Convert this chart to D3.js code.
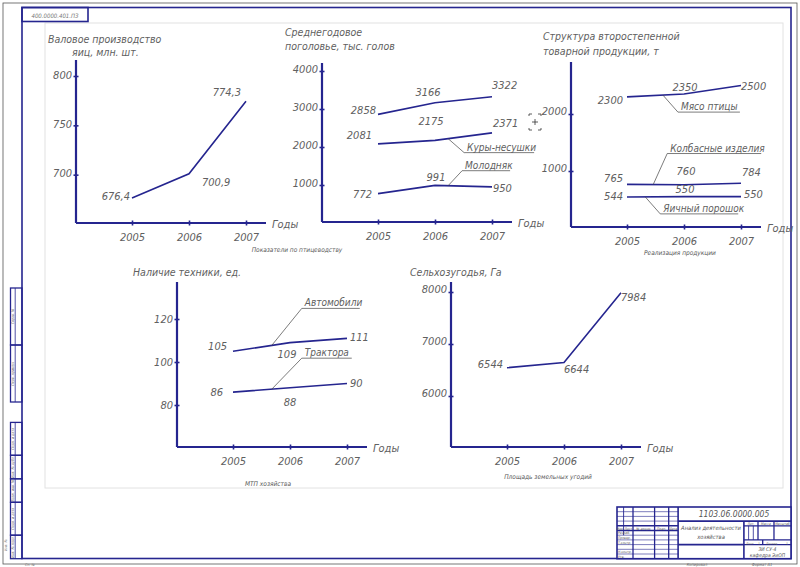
<!DOCTYPE html>
<html>
<head>
<meta charset="utf-8">
<script src="https://cdn.jsdelivr.net/npm/d3@7/dist/d3.min.js"></script>
<style>
  html, body { margin: 0; padding: 0; background: #ffffff; }
  svg { display: block; }
</style>
</head>
<body>
<script>
// ---- Data ----
var years = ["2005", "2006", "2007"];

var eggsValues = [676.4, 700.9, 774.3];
var eggsTicks = [700, 750, 800];

var poultryTotal = [2858, 3166, 3322];
var poultryLayers = [2081, 2175, 2371];
var poultryYoung = [772, 991, 950];
var poultryTicks = [1000, 2000, 3000, 4000];

var meatValues = [2300, 2350, 2500];
var sausageValues = [765, 760, 784];
var eggPowderValues = [544, 550, 550];
var productTicks = [1000, 2000];

var carsValues = [105, 109, 111];
var tractorsValues = [86, 88, 90];
var machineryTicks = [80, 100, 120];

var landValues = [6544, 6644, 7984];
var landTicks = [6000, 7000, 8000];

var FONT = "'Liberation Sans Narrow','DejaVu Sans Condensed','Liberation Sans',sans-serif";
var BLUE = "#25258f";
var INK = "#606060";
var NUM = 11;   // numbers
var TXT = 10;   // words

var width = 800,
	height = 567;

var svg = d3.select("body").append("svg")
	.attr("width", width)
	.attr("height", height);

svg.append("rect")
	.attr("width", width)
	.attr("height", height)
	.attr("fill", "#ffffff");

function fmt(v) {
	return String(v).replace(".", ",");
}

function label(g, x, y, str, size, anchor, fill) {
	return g.append("text")
		.attr("x", x)
		.attr("y", y)
		.attr("text-anchor", anchor || "start")
		.style("font-family", FONT)
		.style("font-style", "italic")
		.style("font-size", size + "px")
		.attr("fill", fill || INK)
		.text(str);
}

function line(g, x1, y1, x2, y2, stroke, w) {
	return g.append("line")
		.attr("x1", x1).attr("y1", y1)
		.attr("x2", x2).attr("y2", y2)
		.attr("stroke", stroke || BLUE)
		.attr("stroke-width", w || 1);
}

// ---- Sheet frame ----
var frame = svg.append("g").attr("id", "frame");

frame.append("rect")   // trimmed sheet edge
	.attr("x", 3).attr("y", 3).attr("width", 794).attr("height", 561)
	.attr("fill", "none").attr("stroke", "#555").attr("stroke-width", 0.8);

frame.append("rect")   // light working area
	.attr("x", 45).attr("y", 23).attr("width", 738).attr("height", 465)
	.attr("fill", "none").attr("stroke", "#e2e2e2").attr("stroke-width", 1);

frame.append("rect")   // main frame
	.attr("x", 22).attr("y", 7.5).attr("width", 769).attr("height", 551)
	.attr("fill", "none").attr("stroke", BLUE).attr("stroke-width", 1.6);

frame.append("rect")   // top-left designation box
	.attr("x", 22).attr("y", 7.5).attr("width", 66).attr("height", 14)
	.attr("fill", "none").attr("stroke", BLUE).attr("stroke-width", 1.6);
label(frame, 55, 17.5, "400.0000.401.ПЗ", 6, "middle", "#777");

// left strip
var stripGroups = [
	{ y0: 288, y1: 345, text: "Справ. №" },
	{ y0: 345, y1: 402, text: "Перв. примен." },
	{ y0: 422.4, y1: 455.3, text: "Подп. и дата" },
	{ y0: 455.3, y1: 478.8, text: "Инв. № дубл." },
	{ y0: 478.8, y1: 502.3, text: "Взам. инв. №" },
	{ y0: 502.3, y1: 535.2, text: "Подп. и дата" },
	{ y0: 535.2, y1: 558.7, text: "Инв. № подл." }
];
stripGroups.forEach(function(s) {
	frame.append("rect")
		.attr("x", 10.5).attr("y", s.y0).attr("width", 11.5).attr("height", s.y1 - s.y0)
		.attr("fill", "none").attr("stroke", BLUE).attr("stroke-width", 1.3);
	line(frame, 15.2, s.y0, 15.2, s.y1, BLUE, 0.8);
	var cy = (s.y0 + s.y1) / 2;
	label(frame, 0, 0, s.text, 3.6, "middle", "#666")
		.attr("transform", "translate(14.2," + cy + ") rotate(-90)");
});
label(frame, 0, 0, "Инв. №", 3.6, "middle", "#777")
	.attr("transform", "translate(7,545) rotate(-90)");
label(frame, 25, 566, "Сп. №", 3.6, "start", "#777");

// ---- Title block ----
var tb = svg.append("g").attr("id", "titleblock");
var mm = 0.94;
var tbX = 617, tbY = 507, tbR = 791, tbB = 558.7;
tb.append("rect")
	.attr("x", tbX).attr("y", tbY).attr("width", tbR - tbX).attr("height", tbB - tbY)
	.attr("fill", "#ffffff").attr("stroke", BLUE).attr("stroke-width", 1.6);

var hdrX = [617, 623.6, 633, 654.6, 668.7, 678.1];
hdrX.slice(1, 5).forEach(function(cx, i) {
	line(tb, cx, tbY, cx, i === 0 ? tbY + 30 * mm : tbB, BLUE, i === 0 ? 0.9 : 1.3);
});
line(tb, 678.1, tbY, 678.1, tbB, BLUE, 1.6);
for (var k = 1; k < 11; k++) {
	var ry = tbY + k * 5 * mm;
	var bold = (k === 4 || k === 5);
	line(tb, tbX, ry, 678.1, ry, BLUE, bold ? 1.4 : 0.6);
}
var hdr = ["Изм.", "Лист", "№ докум.", "Подп.", "Дата"];
hdr.forEach(function(t, i) {
	label(tb, (hdrX[i] + hdrX[i + 1]) / 2, tbY + 5 * 5 * mm - 1, t, 3.4, "middle", "#555");
});
var roles = ["Разраб.", "Провер.", "Т.контр.", "", "Н.контр.", "Утв."];
roles.forEach(function(t, i) {
	label(tb, 618, tbY + (6 + i) * 5 * mm - 1, t, 3.4, "start", "#555");
});

// right part
var dRow = tbY + 15 * mm;
line(tb, 678.1, dRow, tbR, dRow, BLUE, 1.6);
label(tb, 734, dRow - 4, "1103.06.0000.005", 8.5, "middle", "#555");
var nameR = 678.1 + 70 * mm;
line(tb, nameR, dRow, nameR, tbB, BLUE, 1.6);
line(tb, 678.1, dRow + 25 * mm, nameR, dRow + 25 * mm, BLUE, 1.6);
label(tb, 711, 530, "Анализ деятельности", 5.8, "middle", "#555");
label(tb, 711, 538.5, "хозяйства", 5.8, "middle", "#555");

var litR = nameR + 15 * mm, massR = litR + 17 * mm;
line(tb, nameR, dRow + 5 * mm, tbR, dRow + 5 * mm, BLUE, 1.3);
line(tb, nameR, dRow + 20 * mm, tbR, dRow + 20 * mm, BLUE, 1.4);
line(tb, nameR, dRow + 25 * mm, tbR, dRow + 25 * mm, BLUE, 1.4);
line(tb, litR, dRow, litR, dRow + 20 * mm, BLUE, 1.3);
line(tb, massR, dRow, massR, dRow + 20 * mm, BLUE, 1.3);
line(tb, nameR + 5 * mm, dRow + 5 * mm, nameR + 5 * mm, dRow + 20 * mm, BLUE, 0.8);
line(tb, nameR + 10 * mm, dRow + 5 * mm, nameR + 10 * mm, dRow + 20 * mm, BLUE, 0.8);
line(tb, nameR + 20 * mm, dRow + 20 * mm, nameR + 20 * mm, dRow + 25 * mm, BLUE, 1.3);
label(tb, (nameR + litR) / 2, dRow + 4, "Лит.", 3.4, "middle", "#555");
label(tb, (litR + massR) / 2, dRow + 4, "Масса", 3.4, "middle", "#555");
label(tb, (massR + tbR) / 2, dRow + 4, "Масштаб", 3.4, "middle", "#555");
label(tb, nameR + 2, dRow + 24, "Лист", 3.4, "start", "#555");
label(tb, nameR + 14, dRow + 24, "1", 3.4, "start", "#555");
label(tb, nameR + 22, dRow + 24, "Листов", 3.4, "start", "#555");
label(tb, tbR - 4, dRow + 24, "1", 3.4, "middle", "#555");
label(tb, (nameR + tbR) / 2, 551, "ЗИ СУ-4", 5, "middle", "#555");
label(tb, (nameR + tbR) / 2, 556.5, "кафедра ЭиОП", 5, "middle", "#555");

label(frame, 697, 565.5, "Копировал", 4, "middle", "#666");
label(frame, 762, 565.5, "Формат A1", 4, "middle", "#666");

// ---- Charts ----
function drawChart(cfg) {
	var g = svg.append("g").attr("id", cfg.id);

	var x = d3.scalePoint()
		.domain(years)
		.range([cfg.ax + 56, cfg.ax + 170]);
	var y = d3.scaleLinear()
		.domain(cfg.domain)
		.range(cfg.range);

	// y axis with crossing ticks
	var yAxisG = g.append("g")
		.attr("transform", "translate(" + cfg.ax + ",0)")
		.call(d3.axisLeft(y).tickValues(cfg.ticks).tickSize(3).tickFormat(d3.format("d")));
	yAxisG.select(".domain").remove();
	yAxisG.selectAll(".tick line")
		.attr("x1", 2.5).attr("x2", -2.5)
		.attr("stroke", BLUE).attr("stroke-width", 1.6);
	yAxisG.selectAll(".tick text")
		.attr("x", -4).attr("dy", cfg.tickDy)
		.style("font-family", FONT).style("font-style", "italic").style("font-size", NUM + "px")
		.attr("fill", INK);

	var xAxisG = g.append("g")
		.attr("transform", "translate(0," + cfg.base + ")")
		.call(d3.axisBottom(x).tickSize(3));
	xAxisG.select(".domain").remove();
	xAxisG.selectAll(".tick line")
		.attr("y1", -2.5).attr("y2", 2.5)
		.attr("stroke", BLUE).attr("stroke-width", 1.6);
	xAxisG.selectAll(".tick text")
		.attr("y", 12).attr("dy", "0.5em")
		.style("font-family", FONT).style("font-style", "italic").style("font-size", NUM + "px")
		.attr("fill", INK);

	line(g, cfg.ax, cfg.top, cfg.ax, cfg.base, BLUE, 2.2);
	line(g, cfg.ax, cfg.base, cfg.ax + 190, cfg.base, BLUE, 2.2);
	label(g, cfg.ax + 196, cfg.base + 5, "Годы", NUM);

	cfg.title.forEach(function(t) {
		label(g, t[0], t[1], t[2], TXT + 0.5);
	});

	var path = d3.line()
		.x(function(d, i) { return x(years[i]); })
		.y(function(d) { return y(d); });

	cfg.series.forEach(function(s) {
		g.append("path")
			.datum(s.values)
			.attr("d", path)
			.attr("fill", "none")
			.attr("stroke", BLUE)
			.attr("stroke-width", 1.6);

		g.selectAll(null)
			.data(s.values)
			.enter()
			.append("text")
			.attr("x", function(d, i) { return x(years[i]) + s.labels[i][0]; })
			.attr("y", function(d, i) { return y(d) + s.labels[i][1]; })
			.attr("text-anchor", function(d, i) { return s.labels[i][2]; })
			.style("font-family", FONT)
			.style("font-style", "italic")
			.style("font-size", NUM + "px")
			.attr("fill", INK)
			.text(fmt);

		if (s.leader) {
			var ld = s.leader;
			var i0 = Math.floor(ld.at), f = ld.at - i0;
			var px = x(years[i0]) + f * (x(years[i0 + 1]) - x(years[i0]));
			var py = y(s.values[i0]) + f * (y(s.values[i0 + 1]) - y(s.values[i0]));
			var ex = px + ld.dx, ey = py + ld.dy;
			line(g, px, py, ex, ey, "#444", 0.7);
			line(g, ex, ey, ex + ld.len, ey, "#444", 0.7);
			label(g, ex + 3, ey - 2, ld.text, TXT);
		}
	});

	if (cfg.caption) {
		label(g, cfg.caption[0], cfg.caption[1], cfg.caption[2], 6.5, "middle", "#555");
	}
}

drawChart({
	id: "eggs",
	ax: 76, top: 60, base: 223,
	domain: [650, 800], range: [224, 76],
	ticks: eggsTicks, tickDy: "0.2em",
	title: [[48, 43, "Валовое производство"], [72, 56, "яиц, млн. шт."]],
	series: [
		{ values: eggsValues, labels: [[-2, 2, "end"], [13, 12, "start"], [-5, -5, "end"]] }
	],
	caption: [297, 252, "Показатели по птицеводству"]
});

drawChart({
	id: "poultry",
	ax: 322, top: 63, base: 222,
	domain: [0, 4000], range: [223, 71],
	ticks: poultryTicks, tickDy: "0.1em",
	title: [[285, 36, "Среднегодовое"], [285, 50, "поголовье, тыс. голов"]],
	series: [
		{ values: poultryTotal, labels: [[-2, 0, "end"], [-7, -7, "middle"], [0, -8, "start"]] },
		{ values: poultryLayers, labels: [[-6, -5, "end"], [-4, -15, "middle"], [1, -6, "start"]],
			leader: { at: 1.23, dx: 16, dy: 14, len: 70, text: "Куры-несушки" } },
		{ values: poultryYoung, labels: [[-6, 4, "end"], [1, -4, "middle"], [1, 5, "start"]],
			leader: { at: 1.23, dx: 14, dy: -15, len: 48, text: "Молодняк" } }
	]
});

drawChart({
	id: "products",
	ax: 571, top: 62, base: 227,
	domain: [0, 2000], range: [228, 114],
	ticks: productTicks, tickDy: "0.05em",
	title: [[543, 40, "Структура второстепенной"], [543, 55, "товарной продукции, т"]],
	series: [
		{ values: meatValues, labels: [[-4, 7, "end"], [1, -3, "middle"], [0, 4, "start"]],
			leader: { at: 0.63, dx: 15, dy: 17, len: 62, text: "Мясо птицы" } },
		{ values: sausageValues, labels: [[-4, -2, "end"], [2, -10, "middle"], [1, -7, "start"]],
			leader: { at: 0.46, dx: 14, dy: -31, len: 94, text: "Колбасные изделия" } },
		{ values: eggPowderValues, labels: [[-4, 3, "end"], [1, -4, "middle"], [3, 1, "start"]],
			leader: { at: 0.32, dx: 15, dy: 17, len: 78, text: "Яичный порошок" } }
	],
	caption: [680, 255, "Реализация продукции"]
});

drawChart({
	id: "machinery",
	ax: 177, top: 282, base: 447,
	domain: [60, 120], range: [448, 319],
	ticks: machineryTicks, tickDy: "0.35em",
	title: [[133, 276, "Наличие техники, ед."]],
	series: [
		{ values: carsValues, labels: [[-6, -1, "end"], [-3, 15, "middle"], [3, 3, "start"]],
			leader: { at: 0.68, dx: 30, dy: -37, len: 58, text: "Автомобили" } },
		{ values: tractorsValues, labels: [[-10, 4, "end"], [0, 18, "middle"], [3, 3, "start"]],
			leader: { at: 0.68, dx: 30, dy: -31, len: 50, text: "Трактора" } }
	],
	caption: [268, 486, "МТП хозяйства"]
});

drawChart({
	id: "land",
	ax: 451, top: 282, base: 447,
	domain: [5000, 8000], range: [448, 292],
	ticks: landTicks, tickDy: "0.05em",
	title: [[410, 276, "Сельхозугодья, Га"]],
	series: [
		{ values: landValues, labels: [[-4, 0, "end"], [0, 10, "start"], [0, 8, "start"]] }
	],
	caption: [548, 479, "Площадь земельных угодий"]
});

// cursor mark left on the sheet
var cur = svg.append("g").attr("id", "cursor").attr("stroke", "#333").attr("stroke-width", 0.8).attr("fill", "none");
cur.append("path").attr("d", "M529,116 v-2 h3 M538,114 h3 v2 M541,128 v2 h-3 M532,130 h-3 v-2");
cur.append("path").attr("d", "M535,119 v6 M532,122 h6");
</script>
</body>
</html>
